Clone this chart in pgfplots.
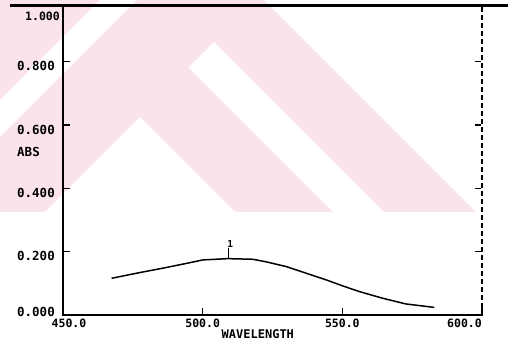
\documentclass[border=0pt]{standalone}
\usepackage{fontspec}
\setmonofont{DejaVu Sans Mono}
\usepackage{pgfplots}
\pgfplotsset{compat=1.18}
\definecolor{wmpink}{RGB}{251,228,233}

% absorbance spectrum, wavelength in nm
\pgfplotstableread{
lambda  abs
467.4   0.116
477.5   0.134
485.8   0.148
494.2   0.163
500.1   0.174
509.0   0.178
518.0   0.176
522.7   0.168
529.9   0.153
537.0   0.132
544.2   0.111
550.1   0.092
556.1   0.074
564.4   0.053
572.7   0.035
582.9   0.024
}\spectrum

\newcommand{\plotfont}[1]{\ttfamily\bfseries\fontsize{#1}{#1}\selectfont}

\pgfplotsset{
  specframe/.style={
    at={(0pt,0pt)}, anchor=south west,
    scale only axis, width=419pt, height=309pt,
    xmin=450, xmax=600, ymin=0, ymax=0.976,
    axis line style={line width=1.1pt},
    major tick length=7pt,
    tick style={black, line width=1.3pt},
    xtick={450,500,550,600},
    ytick={0,0.2,0.4,0.6,0.8},
  },
}

\begin{document}
\begin{tikzpicture}
\useasboundingbox (-63pt,-28pt) rectangle (445pt,315pt);
% background logo, drawn in page units (origin top left, y downwards)
\begin{scope}[x=1pt,y=-1pt,shift={(-63pt,315pt)}]
  \fill[wmpink] (0,0) rectangle (480,212);
  \fill[white] (100,0) -- (137,0) -- (0,137) -- (0,100) -- cycle;
  \fill[white] (188.5,67.5) -- (214,42) -- (384,212) -- (333,212) -- cycle;
  \fill[white] (140,117) -- (235,212) -- (45,212) -- cycle;
  \fill[white] (264,0) -- (520,0) -- (520,212) -- (476,212) -- cycle;
\end{scope}
\begin{axis}[
  specframe,
  xtick pos=left,
  xticklabels={{\hspace*{12pt}450.0},{500.0},{550.0},{600.0\hspace*{35pt}}},
  yticklabels={{\raisebox{8pt}{0.000}},{0.200},{0.400},{0.600},{0.800}},
  yticklabel style={font=\plotfont{12.5}, anchor=base east, inner sep=0pt, xshift=-8pt, yshift=-9pt},
  xticklabel style={font=\plotfont{11.5}, anchor=north, inner sep=0pt, yshift=-3.5pt},
  xlabel={WAVELENGTH},
  xlabel style={font=\plotfont{12}, at={(rel axis cs:0.465,0)}, anchor=north, inner sep=0pt, yshift=-14pt},
]
  \addplot[black, line width=1.5pt] table[x=lambda, y=abs] {\spectrum};
  % peak pick
  \addplot[black, line width=0.9pt] coordinates {(509.3,0.178) (509.3,0.212)};
\end{axis}
% plain tick frame on top, without labels
\begin{axis}[
  specframe,
  xtick pos=left,
  xticklabels={}, yticklabels={},
]
\end{axis}
% frame touches and labels, in page units
\begin{scope}[x=1pt,y=-1pt,shift={(-63pt,315pt)}]
  \draw[line width=1.7pt] (63,315) -- (482,315);
  \draw[white, line width=1.8pt, dash pattern=on 3pt off 5pt] (482,12) -- (482,308);
  \draw[line width=2.6pt] (10,5.5) -- (508,5.5);
  \node[font=\plotfont{9.5}, anchor=south, inner sep=0.5pt] at (230.3,248) {1};
  \node[font=\plotfont{12.5}, anchor=west, inner sep=0pt] at (17,152) {ABS};
  \node[font=\plotfont{11.5}, anchor=east, inner sep=0pt] at (60,16) {1.000};
\end{scope}
\end{tikzpicture}
\end{document}
